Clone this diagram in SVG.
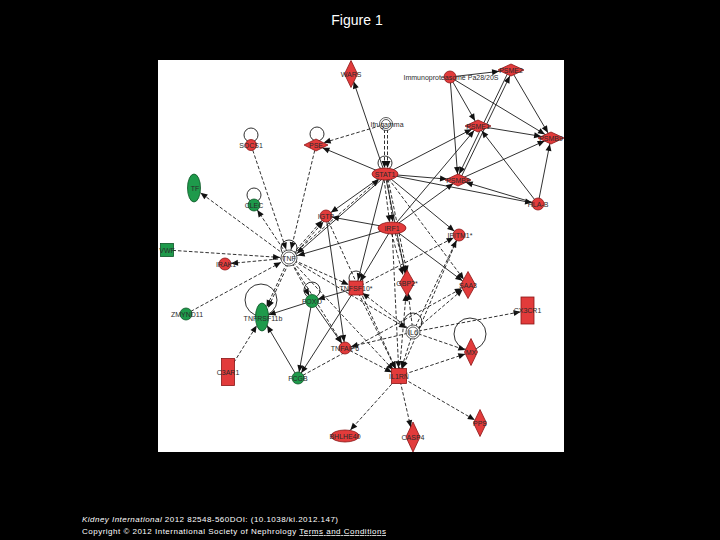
<svg xmlns="http://www.w3.org/2000/svg" width="720" height="540" viewBox="0 0 720 540">
<style>
.r{fill:#e23b3b;stroke:#8a1515;stroke-width:0.8}
.g{fill:#1e9a4b;stroke:#0c5526;stroke-width:0.8}
.w{fill:#fff;stroke:#333;stroke-width:0.8}
.s{stroke:#1a1a1a;stroke-width:0.9;fill:none}
.d{stroke:#1a1a1a;stroke-width:0.9;fill:none;stroke-dasharray:3.5 2}
.loop{fill:none;stroke:#1a1a1a;stroke-width:0.9}
.lbl{font-family:"Liberation Sans",Arial,sans-serif;font-size:7px;fill:#2a2a2a;text-anchor:middle}
.foot{font-family:"Liberation Sans",Arial,sans-serif;font-size:8px;fill:#fff}
</style>
<defs>
<marker id="m6" markerUnits="userSpaceOnUse" markerWidth="8" markerHeight="6" refX="13" refY="3" orient="auto" overflow="visible"><path d="M0,0L7,3L0,6z" fill="#111"/></marker>
<marker id="m7" markerUnits="userSpaceOnUse" markerWidth="8" markerHeight="6" refX="14" refY="3" orient="auto" overflow="visible"><path d="M0,0L7,3L0,6z" fill="#111"/></marker>
<marker id="m8" markerUnits="userSpaceOnUse" markerWidth="8" markerHeight="6" refX="15" refY="3" orient="auto" overflow="visible"><path d="M0,0L7,3L0,6z" fill="#111"/></marker>
<marker id="m9" markerUnits="userSpaceOnUse" markerWidth="8" markerHeight="6" refX="16" refY="3" orient="auto" overflow="visible"><path d="M0,0L7,3L0,6z" fill="#111"/></marker>
<marker id="m10" markerUnits="userSpaceOnUse" markerWidth="8" markerHeight="6" refX="17" refY="3" orient="auto" overflow="visible"><path d="M0,0L7,3L0,6z" fill="#111"/></marker>
<marker id="m11" markerUnits="userSpaceOnUse" markerWidth="8" markerHeight="6" refX="18" refY="3" orient="auto" overflow="visible"><path d="M0,0L7,3L0,6z" fill="#111"/></marker>
<marker id="m12" markerUnits="userSpaceOnUse" markerWidth="8" markerHeight="6" refX="19" refY="3" orient="auto" overflow="visible"><path d="M0,0L7,3L0,6z" fill="#111"/></marker>
</defs>
<rect x="0" y="0" width="720" height="540" fill="#000"/>
<text x="357" y="25" font-family="Liberation Sans, Arial, sans-serif" font-size="14" fill="#fff" text-anchor="middle">Figure 1</text>
<rect x="158" y="60" width="406" height="392" fill="#fff"/>

<g id="connectors">
<line class="s" x1="450" y1="77" x2="511" y2="70" marker-end="url(#m12)"/>
<line class="s" x1="450" y1="77" x2="478" y2="126" marker-end="url(#m6)"/>
<line class="s" x1="450" y1="77" x2="551" y2="138" marker-end="url(#m7)"/>
<line class="s" x1="450" y1="77" x2="458" y2="180" marker-end="url(#m6)"/>
<line class="s" x1="511" y1="70" x2="551" y2="138" marker-end="url(#m6)"/>
<line class="s" x1="509.6" y1="69.3" x2="456.6" y2="179.3" marker-end="url(#m6)"/>
<line class="s" x1="459.4" y1="180.7" x2="512.4" y2="70.7" marker-end="url(#m6)"/>
<line class="s" x1="478" y1="126" x2="551" y2="138" marker-end="url(#m10)"/>
<line class="s" x1="538" y1="204" x2="551" y2="138" marker-end="url(#m6)"/>
<line class="s" x1="538" y1="204" x2="478" y2="126" marker-end="url(#m6)"/>
<line class="s" x1="538" y1="204" x2="458" y2="180" marker-end="url(#m8)"/>
<line class="s" x1="458" y1="180" x2="551" y2="138" marker-end="url(#m7)"/>
<line class="s" x1="385" y1="174" x2="478" y2="126" marker-end="url(#m7)"/>
<line class="s" x1="385" y1="174" x2="458" y2="180" marker-end="url(#m11)"/>
<line class="s" x1="392" y1="228" x2="458" y2="180" marker-end="url(#m6)"/>
<line class="s" x1="392" y1="228" x2="478" y2="126" marker-end="url(#m6)"/>
<line class="s" x1="385" y1="174" x2="351" y2="74" marker-end="url(#m8)"/>
<line class="s" x1="385" y1="174" x2="316" y2="145" marker-end="url(#m7)"/>
<line class="d" x1="386" y1="124" x2="316" y2="145" marker-end="url(#m8)"/>
<line class="d" x1="384.5" y1="124" x2="384.5" y2="174" marker-end="url(#m6)"/>
<line class="d" x1="387.5" y1="124" x2="387.5" y2="174" marker-end="url(#m6)"/>
<line class="s" x1="385" y1="174" x2="326" y2="216" marker-end="url(#m6)"/>
<line class="d" x1="383.4" y1="174.2" x2="390.4" y2="228.2" marker-end="url(#m6)"/>
<line class="d" x1="386.6" y1="173.8" x2="393.6" y2="227.8" marker-end="url(#m6)"/>
<line class="s" x1="385" y1="174" x2="407" y2="283" marker-end="url(#m10)"/>
<line class="d" x1="387" y1="173.6" x2="409" y2="282.6" marker-end="url(#m10)"/>
<line class="s" x1="385" y1="174" x2="459" y2="235" marker-end="url(#m6)"/>
<line class="d" x1="385" y1="174" x2="468" y2="285" marker-end="url(#m7)"/>
<line class="d" x1="289" y1="258" x2="385" y2="174" marker-end="url(#m8)"/>
<line class="s" x1="386.2" y1="175.4" x2="290.2" y2="259.4" marker-end="url(#m9)"/>
<line class="s" x1="385" y1="174" x2="356" y2="288" marker-end="url(#m8)"/>
<line class="s" x1="385" y1="174" x2="538" y2="204" marker-end="url(#m6)"/>
<line class="s" x1="392" y1="228" x2="326" y2="216" marker-end="url(#m6)"/>
<line class="s" x1="392" y1="228" x2="289" y2="258" marker-end="url(#m9)"/>
<line class="d" x1="390.3" y1="228.5" x2="405.3" y2="283.5" marker-end="url(#m9)"/>
<line class="d" x1="393.7" y1="227.5" x2="408.7" y2="282.5" marker-end="url(#m9)"/>
<line class="s" x1="392" y1="228" x2="468" y2="285" marker-end="url(#m7)"/>
<line class="s" x1="392" y1="228" x2="356" y2="288" marker-end="url(#m8)"/>
<line class="d" x1="392" y1="228" x2="399" y2="376" marker-end="url(#m8)"/>
<line class="d" x1="289" y1="258" x2="194" y2="188" marker-end="url(#m8)"/>
<line class="d" x1="289" y1="258" x2="254" y2="205" marker-end="url(#m6)"/>
<line class="d" x1="289" y1="258" x2="326" y2="216" marker-end="url(#m6)"/>
<line class="d" x1="290.4" y1="259.2" x2="327.4" y2="217.2" marker-end="url(#m6)"/>
<line class="d" x1="167" y1="250" x2="289" y2="258" marker-end="url(#m9)"/>
<line class="d" x1="289" y1="258" x2="225" y2="264" marker-end="url(#m6)"/>
<line class="d" x1="186" y1="314" x2="289" y2="258" marker-end="url(#m9)"/>
<line class="d" x1="289" y1="258" x2="262" y2="317" marker-end="url(#m11)"/>
<line class="d" x1="290.6" y1="258.8" x2="263.6" y2="317.8" marker-end="url(#m11)"/>
<line class="d" x1="289" y1="258" x2="312" y2="301" marker-end="url(#m6)"/>
<line class="d" x1="289" y1="258" x2="356" y2="288" marker-end="url(#m8)"/>
<line class="d" x1="289" y1="258" x2="345" y2="348" marker-end="url(#m6)"/>
<line class="d" x1="289" y1="258" x2="399" y2="376" marker-end="url(#m8)"/>
<line class="d" x1="289" y1="258" x2="413" y2="332" marker-end="url(#m8)"/>
<line class="d" x1="251" y1="145" x2="289" y2="258" marker-end="url(#m9)"/>
<line class="d" x1="316" y1="145" x2="289" y2="258" marker-end="url(#m9)"/>
<line class="d" x1="356" y1="288" x2="459" y2="235" marker-end="url(#m6)"/>
<line class="d" x1="413" y1="332" x2="459" y2="235" marker-end="url(#m6)"/>
<line class="d" x1="413" y1="332" x2="468" y2="285" marker-end="url(#m7)"/>
<line class="d" x1="413" y1="332" x2="527.5" y2="310.5" marker-end="url(#m7)"/>
<line class="d" x1="413" y1="332" x2="407" y2="283" marker-end="url(#m10)"/>
<line class="d" x1="413" y1="332" x2="471" y2="352" marker-end="url(#m6)"/>
<line class="d" x1="413" y1="332" x2="345" y2="348" marker-end="url(#m6)"/>
<line class="d" x1="413" y1="332" x2="399" y2="376" marker-end="url(#m8)"/>
<line class="d" x1="413" y1="332" x2="356" y2="288" marker-end="url(#m8)"/>
<line class="d" x1="399" y1="376" x2="471" y2="352" marker-end="url(#m6)"/>
<line class="d" x1="399" y1="376" x2="480" y2="423" marker-end="url(#m6)"/>
<line class="d" x1="399" y1="376" x2="413" y2="437" marker-end="url(#m10)"/>
<line class="d" x1="399" y1="376" x2="345" y2="436" marker-end="url(#m8)"/>
<line class="d" x1="399" y1="376" x2="407" y2="283" marker-end="url(#m11)"/>
<line class="s" x1="356" y1="288" x2="312" y2="301" marker-end="url(#m6)"/>
<line class="s" x1="356" y1="288" x2="298" y2="378" marker-end="url(#m6)"/>
<line class="s" x1="312" y1="301" x2="262" y2="317" marker-end="url(#m7)"/>
<line class="s" x1="312" y1="301" x2="298" y2="378" marker-end="url(#m6)"/>
<line class="s" x1="298" y1="378" x2="262" y2="317" marker-end="url(#m10)"/>
<line class="d" x1="228" y1="372" x2="262" y2="317" marker-end="url(#m10)"/>
<line class="s" x1="312" y1="301" x2="345" y2="348" marker-end="url(#m6)"/>
<line class="d" x1="356" y1="288" x2="399" y2="376" marker-end="url(#m8)"/>
<line class="d" x1="298" y1="378" x2="468" y2="285" marker-end="url(#m7)"/>
<line class="s" x1="326" y1="216" x2="345" y2="348" marker-end="url(#m6)"/>
<line class="d" x1="326" y1="216" x2="399" y2="376" marker-end="url(#m8)"/>
<line class="d" x1="459" y1="235" x2="399" y2="376" marker-end="url(#m8)"/>
<line class="d" x1="345" y1="348" x2="399" y2="376" marker-end="url(#m8)"/>
<circle class="loop" cx="385" cy="163" r="7"/>
<circle class="loop" cx="251" cy="135" r="7"/>
<circle class="loop" cx="317" cy="134" r="7"/>
<circle class="loop" cx="254" cy="195" r="7"/>
<circle class="loop" cx="289" cy="248" r="8"/>
<circle class="loop" cx="356" cy="278" r="7"/>
<circle class="loop" cx="312" cy="290" r="8"/>
<circle class="loop" cx="261" cy="300" r="16"/>
<circle class="loop" cx="413" cy="322" r="9"/>
<circle class="loop" cx="470" cy="334" r="16"/>
</g>

<g id="n-WARS"><polygon class="r" points="351,60.5 357.5,74 351,87.5 344.5,74"/><text class="lbl" x="351" y="76.5">WARS</text></g>
<g id="n-immuno"><circle class="r" cx="450" cy="77" r="6"/><text class="lbl" x="451" y="79.5">Immunoproteasome Pa28/20S</text></g>
<g id="n-PSME2"><polygon class="r" points="498,70 511,64 524,70 511,76"/><text class="lbl" x="511" y="72.5">PSME2</text></g>
<g id="n-PSME1"><polygon class="r" points="465,126 478,120 491,126 478,132"/><text class="lbl" x="478" y="128.5">PSME1</text></g>
<g id="n-PSMB9"><polygon class="r" points="538,138 551,132 564,138 551,144"/><text class="lbl" x="551" y="140.5">PSMB9</text></g>
<g id="n-PSMB8"><polygon class="r" points="445,180 458,174 471,180 458,186"/><text class="lbl" x="458" y="182.5">PSMB8</text></g>
<g id="n-HLAB"><circle class="r" cx="538" cy="204" r="6"/><text class="lbl" x="538" y="206.5">HLA-B</text></g>
<g id="n-IFNG"><circle class="w" cx="386" cy="124" r="6.5"/><circle class="w" cx="386" cy="124" r="4.5"/><text class="lbl" x="387" y="126.5">Ifn gamma</text></g>
<g id="n-STAT1"><ellipse class="r" cx="385" cy="174" rx="13" ry="6"/><text class="lbl" x="385" y="176.5">STAT1</text></g>
<g id="n-SOCS1"><circle class="r" cx="251" cy="145" r="5.5"/><text class="lbl" x="251" y="147.5">SOCS1</text></g>
<g id="n-PSE"><polygon class="r" points="304,145 316,139 328,145 316,151"/><text class="lbl" x="316" y="147.5">PSE</text></g>
<g id="n-TF"><ellipse class="g" cx="194" cy="188" rx="6.5" ry="14"/><text class="lbl" x="195" y="190.5">TF</text></g>
<g id="n-CLEC"><circle class="g" cx="254" cy="205" r="6"/><text class="lbl" x="254" y="207.5">CLEC</text></g>
<g id="n-IGTP"><circle class="r" cx="326" cy="216" r="6"/><text class="lbl" x="326" y="218.5">IGTP</text></g>
<g id="n-IRF1"><ellipse class="r" cx="392" cy="228" rx="14" ry="6"/><text class="lbl" x="392" y="230.5">IRF1</text></g>
<g id="n-IFITM1"><circle class="r" cx="459" cy="235" r="6"/><text class="lbl" x="460" y="237.5">IFITM1*</text></g>
<g id="n-VWF"><rect class="g" x="160.5" y="243.5" width="13" height="13"/><text class="lbl" x="167" y="252.5">VWF</text></g>
<g id="n-IRAK1"><circle class="r" cx="225" cy="264" r="6"/><text class="lbl" x="226" y="266.5">IRAK1</text></g>
<g id="n-TNF"><circle class="w" cx="289" cy="258" r="8"/><circle class="w" cx="289" cy="258" r="6"/><text class="lbl" x="289" y="260.5">TNF</text></g>
<g id="n-TNFSF10"><rect class="r" x="349" y="281" width="14" height="14"/><text class="lbl" x="356" y="290.5">TNFSF10*</text></g>
<g id="n-GBP2"><polygon class="r" points="407,270 414.5,283 407,296 399.5,283"/><text class="lbl" x="407" y="285.5">GBP2*</text></g>
<g id="n-SAA3"><polygon class="r" points="468,271.5 475.5,285 468,298.5 460.5,285"/><text class="lbl" x="468" y="287.5">SAA3</text></g>
<g id="n-CX3CR1"><rect class="r" x="521" y="297" width="13" height="27"/><text class="lbl" x="527.5" y="312.5">CX3CR1</text></g>
<g id="n-FOXO1"><circle class="g" cx="312" cy="301" r="6.5"/><text class="lbl" x="312" y="303.5">FOXO</text></g>
<g id="n-TNFRSF11B"><ellipse class="g" cx="262" cy="317" rx="6.5" ry="14"/><text class="lbl" x="263" y="320.5">TNFRSF11b</text></g>
<g id="n-ZMYND11"><circle class="g" cx="186" cy="314" r="6"/><text class="lbl" x="187" y="316.5">ZMYND11</text></g>
<g id="n-IL6"><circle class="w" cx="413" cy="332" r="7"/><circle class="w" cx="413" cy="332" r="5"/><text class="lbl" x="413" y="334.5">IL6</text></g>
<g id="n-MX1"><polygon class="r" points="471,338.5 477.5,352 471,365.5 464.5,352"/><text class="lbl" x="471" y="354.5">MX</text></g>
<g id="n-TNFAIP6"><circle class="r" cx="345" cy="348" r="6"/><text class="lbl" x="345" y="350.5">TNFAIP6</text></g>
<g id="n-C3AR1"><rect class="r" x="221.5" y="358.5" width="13" height="27"/><text class="lbl" x="228" y="374.5">C3AR1</text></g>
<g id="n-FCGB"><circle class="g" cx="298" cy="378" r="6"/><text class="lbl" x="298" y="380.5">FCGB</text></g>
<g id="n-IL1RN"><rect class="r" x="391.5" y="368.5" width="15" height="15"/><text class="lbl" x="399" y="378.5">IL1RN</text></g>
<g id="n-BHLHE40"><ellipse class="r" cx="345" cy="436" rx="14" ry="6"/><text class="lbl" x="345" y="438.5">BHLHE40</text></g>
<g id="n-CASP4"><polygon class="r" points="413,422 420,437 413,452 406,437"/><text class="lbl" x="413" y="439.5">CASP4</text></g>
<g id="n-PPS"><polygon class="r" points="480,409.5 486.5,423 480,436.5 473.5,423"/><text class="lbl" x="480" y="425.5">PPS</text></g>

<text class="foot" x="82" y="522" textLength="256" lengthAdjust="spacing"><tspan font-style="italic">Kidney International</tspan> 2012 82548-560DOI: (10.1038/ki.2012.147)</text>
<text class="foot" x="82" y="534" textLength="304" lengthAdjust="spacing">Copyright © 2012 International Society of Nephrology <tspan text-decoration="underline">Terms and Conditions</tspan></text>
</svg>
